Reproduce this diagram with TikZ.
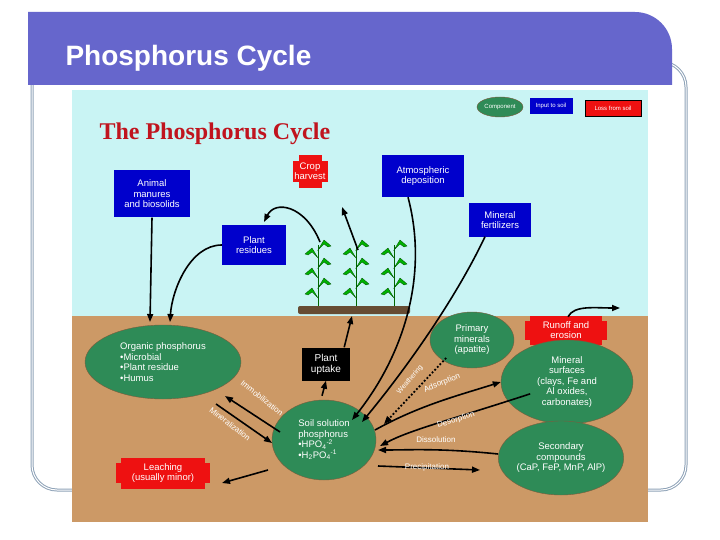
\documentclass[tikz,border=0pt]{standalone}
\usepackage{fontspec}
\setmainfont{Liberation Sans}
\newfontfamily\serifT{Liberation Serif}
\usetikzlibrary{arrows.meta,shapes.geometric}
\definecolor{sky}{HTML}{C9F4F4}
\definecolor{soil}{HTML}{CC9966}
\definecolor{grn}{HTML}{2E8B57}
\definecolor{blu}{HTML}{0000CC}
\definecolor{rd}{HTML}{EE1111}
\definecolor{purp}{HTML}{6666CC}
\definecolor{frame}{HTML}{8FA3B8}
\begin{document}
\begin{tikzpicture}[x=1pt,y=-1pt,
  txt/.style={text=white,font=\fontsize{9.5}{10.5}\selectfont,align=center},
  bbox/.style={txt,fill=blu,inner sep=0pt},
  comp/.style={txt,ellipse,fill=grn,draw=soil!60!black,inner sep=0pt},
  lbl/.style={text=white,font=\fontsize{8}{9}\selectfont,inner sep=0pt},
  arr/.style={-{Triangle[length=8pt,width=6pt]},line width=1.6pt},
]
\useasboundingbox (0,0) rectangle (720,540);
\fill[white] (0,0) rectangle (720,540);
% frame
\draw[frame,line width=3pt,rounded corners=25pt] (32,62) rectangle (686,490);
\draw[white,line width=1pt,rounded corners=25pt] (32,62) rectangle (686,490);
\fill[purp] (28,12) -- (635,12) arc[start angle=90,end angle=0,radius=37pt] -- (672,70) -- (672,85) -- (28,85) -- cycle;
\node[anchor=west,text=white,font=\fontsize{28}{30}\selectfont\bfseries] (ttl) at (62,58) {Phosphorus Cycle};
% picture
\fill[sky] (72,90) rectangle (648,316);
\fill[soil] (72,316) rectangle (648,522);
\node[text={rgb,255:red,192;green,20;blue,30},font=\serifT\bfseries\fontsize{24}{26}\selectfont,anchor=west] (t2) at (96,134) {The Phosphorus Cycle};
% legend
\node[comp,minimum width=46pt,minimum height=20pt,font=\fontsize{6}{7}\selectfont] (lg1) at (500,107) {Component};
\node[bbox,minimum width=43pt,minimum height=16pt,font=\fontsize{6}{7}\selectfont] (lg2) at (551,106) {Input to soil};
\node[txt,fill=rd,draw=black,inner sep=0pt,minimum width=56pt,minimum height=16pt,font=\fontsize{6}{7}\selectfont] (lg3) at (613,108) {Loss from soil};
% boxes
\node[bbox,minimum width=76pt,minimum height=47pt] (anim) at (152,194) {Animal\\manures\\and biosolids};
\node[bbox,minimum width=64pt,minimum height=39pt] (res) at (254,245) {Plant\\residues};
\node[bbox,minimum width=82pt,minimum height=42pt] (atm) at (423,176) {Atmospheric\\deposition};
\node[bbox,minimum width=62pt,minimum height=33pt] (fert) at (500,220) {Mineral\\fertilizers};
\fill[rd] (293,161) rectangle (328,182); \fill[rd] (299,155) rectangle (322,188);
\node[txt] (crop) at (310,171) {Crop\\harvest};
\fill[rd] (525,321) rectangle (607,340); \fill[rd] (530,316) rectangle (602,345);
\node[txt] (run) at (566,330) {Runoff and\\erosion};
\fill[rd] (116,463) rectangle (210,483); \fill[rd] (121,458) rectangle (205,489);
\node[txt] (leach) at (163,473) {Leaching\\(usually minor)};
\node[txt,fill=black,minimum width=48pt,minimum height=33pt,inner sep=0pt,font=\fontsize{10}{11}\selectfont] (upt) at (326,364) {Plant\\uptake};
% ellipses
\node[comp,minimum width=156pt,minimum height=74pt,align=left] (org) at (163,362) {Organic phosphorus\\\textbullet Microbial\\\textbullet Plant residue\\\textbullet Humus};
\node[comp,minimum width=84pt,minimum height=56pt] (prim) at (472,340) {Primary\\minerals\\(apatite)};
\node[comp,minimum width=132pt,minimum height=84pt] (msurf) at (567,382) {Mineral\\surfaces\\(clays, Fe and\\Al oxides,\\carbonates)};
\node[comp,minimum width=104pt,minimum height=80pt,align=left] (sol) at (324,440) {Soil solution\\phosphorus\\\textbullet HPO\textsubscript{4}\textsuperscript{-2}\\\textbullet H\textsubscript{2}PO\textsubscript{4}\textsuperscript{-1}};
\node[comp,minimum width=120pt,minimum height=74pt] (sec) at (561,458) {Secondary\\compounds\\(CaP, FeP, MnP, AlP)};
% plants
\fill[soil!50!black,rounded corners=2pt] (298,306) rectangle (410,314);
\foreach \sx in {318,356,394}{
  \draw[green!40!black,line width=1pt] (\sx,306) -- (\sx,245);
  \foreach \ly/\sg in {298/-1,288/1,278/-1,268/1,258/-1,250/1}{
    \fill[green!70!black,draw=green!30!black,line width=0.3pt] (\sx,\ly) -- ++(\sg*6,-10) -- ++(\sg*7,6) -- ++(-\sg*3,1) -- ++(-\sg*4,-3) -- cycle;
  }
}
\coordinate (pl1) at (320,242);
\coordinate (pl2) at (358,250);
\coordinate (plb) at (352,316);
% arrows
\draw[arr] (anim.south) -- (150,322);
\draw[arr] (res.west) .. controls (190,245) and (172,290) .. (170,322);
\draw[arr] (pl1) .. controls (305,205) and (275,200) .. (264,222);
\draw[arr] (pl2) -- (342,207);
\draw[arr] (atm.south) ++(-15,0) .. controls (430,280) and (400,360) .. (352,420);
\draw[arr] (fert.south) ++(-15,0) .. controls (455,300) and (405,370) .. (362,422);
\draw[arr] (run.north) ++(2,-1) .. controls (574,305) and (595,308) .. (620,308);
\draw[arr] (sol.north) ++(-2,-4) -- (upt.south);
\draw[arr] (upt.north east) ++(-6,0) -- (plb);
\draw[dotted,line width=1.8pt,-{Triangle[length=8pt,width=6pt]}] (prim.south west) ++(4,-2) -- (384,424);
\draw[arr] (375,430) .. controls (420,405) and (460,395) .. (msurf.west);
\draw[arr] (msurf.south west) ++(10,-18) .. controls (450,420) and (410,430) .. (380,446);
\draw[arr] (sec.west) ++(0,-4) .. controls (440,448) and (410,450) .. (378,450);
\draw[arr] (378,466) -- (480,470);
\draw[arr] (280,432) -- (225,396);
\draw[arr] (216,404) -- (272,443);
\draw[arr] (268,470) -- (222,483);
% labels
\node[lbl,rotate=-38] (imm) at (262,398) {Immobilization};
\node[lbl,rotate=-38] (min) at (230,424) {Mineralization};
\node[lbl,rotate=50,font=\fontsize{7}{8}\selectfont] (wea) at (410,380) {Weathering};
\node[lbl,rotate=22] (ads) at (442,383) {Adsorption};
\node[lbl,rotate=18] (des) at (456,420) {Desorption};
\node[lbl] (dis) at (436,440) {Dissolution};
\node[lbl] (pre) at (427,467) {Precipitation};
\end{tikzpicture}
\end{document}
